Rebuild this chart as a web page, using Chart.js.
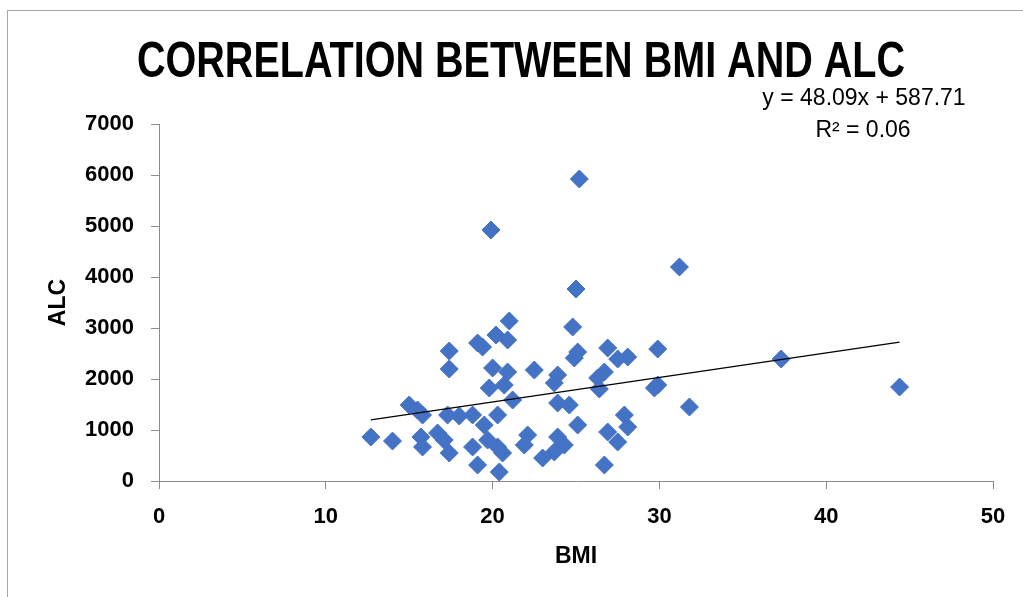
<!DOCTYPE html>
<html>
<head>
<meta charset="utf-8">
<script src="https://cdn.jsdelivr.net/npm/chart.js@4.4.0/dist/chart.umd.min.js"></script>
<style>
  html, body { margin: 0; padding: 0; background: #fff; }
  #frame { position: absolute; left: 7px; top: 10px; width: 1100px; height: 700px; border: 1px solid #a6a6a6; }
  #wrap { position: absolute; left: 0; top: 0; width: 1023px; height: 597px; }
</style>
</head>
<body>
<div id="frame"></div>
<div id="wrap"><canvas id="chart" width="1023" height="597"></canvas></div>
<script>
const chartTitle = "CORRELATION BETWEEN BMI AND ALC";
const xTitle = "BMI";
const yTitle = "ALC";

// BMI / ALC pairs
const bmi = [12.7, 14.0, 15.0, 15.5, 15.8, 15.7, 15.8, 16.7, 17.1, 17.4,
  17.4, 17.4, 17.3, 18.0, 18.8, 18.8, 19.1, 19.1, 19.4, 20.2,
  21.0, 20.9, 20.0, 20.9, 20.7, 19.8, 21.2, 20.3, 19.5, 19.7,
  20.3, 20.6, 20.4, 22.1, 21.9, 22.5, 23.7, 23.9, 23.9, 24.6,
  25.1, 23.9, 24.3, 23.7, 23.0, 24.8, 25.1, 24.9, 25.2, 19.9,
  25.0, 26.9, 27.5, 28.1, 26.7, 26.3, 26.4, 29.9, 29.9, 29.7,
  31.8, 27.9, 28.1, 26.9, 27.5, 26.7, 31.2, 37.3, 44.4];
const alc = [863, 784, 1490, 1392, 1294, 863, 667, 941, 804, 549,
  2549, 2196, 1294, 1275, 1294, 667, 314, 2706, 2627, 2863,
  3137, 2765, 2216, 2137, 1882, 1824, 1588, 1294, 1098, 804,
  667, 549, 176, 902, 706, 2176, 1922, 2078, 1529, 1490,
  1098, 863, 706, 569, 451, 3020, 2529, 2412, 5922, 4922,
  3765, 2608, 2392, 2431, 2137, 2020, 1804, 2588, 1882, 1824,
  1451, 1294, 1059, 961, 765, 314, 4196, 2392, 1843];

// trendline as printed on the chart
const slope = 48.09;
const intercept = 587.71;
const eqText = "y = 48.09x + 587.71";
const r2Text = "R\u00b2 = 0.06";

const xTicks = [0, 10, 20, 30, 40, 50];
const yTicks = [0, 1000, 2000, 3000, 4000, 5000, 6000, 7000];

const font = "'Liberation Sans', Arial, sans-serif";

const points = bmi.map((b, i) => ({ x: b, y: alc[i] }));
const xMin = Math.min(...bmi);
const xMax = Math.max(...bmi);
const trend = [xMin, xMax].map(v => ({ x: v, y: slope * v + intercept }));

// title is squeezed a bit to get the narrow look of the original font
function squeezedText(ctx, text, cx, cy, targetW) {
  const w = ctx.measureText(text).width;
  const k = Math.min(1, targetW / w);
  ctx.save();
  ctx.translate(cx, cy);
  ctx.scale(k, 1);
  ctx.fillText(text, 0, 0);
  ctx.restore();
}

const textPlugin = {
  id: "texts",
  afterDraw(chart) {
    const ctx = chart.ctx;
    ctx.save();
    ctx.fillStyle = "#000";
    ctx.textAlign = "center";
    ctx.textBaseline = "middle";
    ctx.font = "bold 50px " + font;
    squeezedText(ctx, chartTitle, 521, 63, 768);
    ctx.font = "23px " + font;
    ctx.fillText(eqText, 864, 99);
    ctx.fillText(r2Text, 863, 131);
    ctx.restore();
  }
};

const axisColor = "#8c8c8c";
const tickFont = { family: font, size: 22, weight: "bold" };
const titleFont = { family: font, size: 23, weight: "bold" };

new Chart(document.getElementById("chart"), {
  type: "scatter",
  data: {
    datasets: [
      {
        label: "ALC",
        data: points,
        pointStyle: "rectRot",
        pointRadius: 9,
        pointHoverRadius: 9,
        backgroundColor: "#4472c4",
        borderColor: "#4472c4",
        borderWidth: 1,
        order: 2
      },
      {
        type: "line",
        label: "Linear",
        data: trend,
        borderColor: "#000",
        borderWidth: 1.5,
        pointRadius: 0,
        fill: false,
        order: 1
      }
    ]
  },
  options: {
    responsive: false,
    animation: false,
    layout: { padding: { top: 124, right: 30, left: 0, bottom: 0 } },
    plugins: {
      legend: { display: false },
      tooltip: { enabled: false }
    },
    scales: {
      x: {
        type: "linear",
        min: 0,
        max: 50,
        afterBuildTicks: s => { s.ticks = xTicks.map(v => ({ value: v })); },
        afterFit: s => { s.height = 116; },
        border: { color: axisColor, width: 1 },
        grid: { drawOnChartArea: false, drawTicks: true, tickLength: 8, color: axisColor },
        ticks: { padding: 15, color: "#000", font: tickFont, callback: v => String(v) },
        title: { display: true, text: xTitle, color: "#000", padding: { top: 0, bottom: 27 }, font: titleFont }
      },
      y: {
        type: "linear",
        min: 0,
        max: 7000,
        afterBuildTicks: s => { s.ticks = yTicks.map(v => ({ value: v })); },
        afterFit: s => { s.width = 159; },
        border: { color: axisColor, width: 1 },
        grid: { drawOnChartArea: false, drawTicks: true, tickLength: 8, color: axisColor },
        ticks: { padding: 17, color: "#000", font: tickFont, callback: v => String(v) },
        title: { display: true, text: yTitle, color: "#000", padding: { top: 45, bottom: 0 }, font: titleFont }
      }
    }
  },
  plugins: [textPlugin]
});
</script>
</body>
</html>
